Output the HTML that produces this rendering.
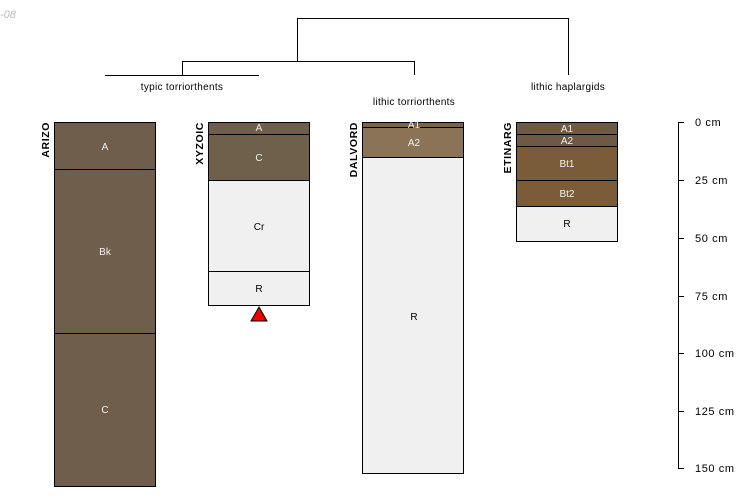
<!DOCTYPE html>
<html><head><style>body{margin:0;background:#fff}svg{display:block}text{font-family:"Liberation Sans",sans-serif}</style></head><body>
<svg width="750" height="500" viewBox="0 0 750 500" xmlns="http://www.w3.org/2000/svg">
<text x="0" y="18" font-size="11" font-style="italic" fill="#bbb">-08</text>
<g stroke="#000" stroke-width="1" fill="none">
<path d="M297.5 61V18.5H568.5V75"/>
<path d="M182.5 75V61.5H414.5V75"/>
<path d="M105 75.5H259"/>
</g>
<g font-size="10" fill="#000" text-anchor="middle" letter-spacing="0.3">
<text x="182" y="90">typic torriorthents</text>
<text x="414" y="105">lithic torriorthents</text>
<text x="568" y="90">lithic haplargids</text>
</g>
<g stroke="#000" stroke-width="1">
<rect x="54.5" y="122.5" width="101" height="47" fill="#6e5e4b"/>
<rect x="54.5" y="169.5" width="101" height="164" fill="#6e5e4b"/>
<rect x="54.5" y="333.5" width="101" height="153" fill="#6e5e4b"/>
<rect x="208.5" y="122.5" width="101" height="12" fill="#6e5e4b"/>
<rect x="208.5" y="134.5" width="101" height="46" fill="#6e604b"/>
<rect x="208.5" y="180.5" width="101" height="91" fill="#f0f0f0"/>
<rect x="208.5" y="271.5" width="101" height="34" fill="#f0f0f0"/>
<rect x="362.5" y="122.5" width="101" height="5" fill="#7a6450"/>
<rect x="362.5" y="127.5" width="101" height="30" fill="#8b7358"/>
<rect x="362.5" y="157.5" width="101" height="316" fill="#f0f0f0"/>
<rect x="516.5" y="122.5" width="101" height="12" fill="#6e5a44"/>
<rect x="516.5" y="134.5" width="101" height="12" fill="#6e5a44"/>
<rect x="516.5" y="146.5" width="101" height="34" fill="#7a5c38"/>
<rect x="516.5" y="180.5" width="101" height="26" fill="#7a5c38"/>
<rect x="516.5" y="206.5" width="101" height="35" fill="#f0f0f0"/>
</g>
<polygon points="259,307 251,321 267,321" fill="#e00" stroke="#000"/>
<g font-size="10" text-anchor="middle" fill="#f0f0f0">
<text x="105" y="150">A</text><text x="105" y="255">Bk</text><text x="105" y="413">C</text>
<text x="259" y="131">A</text><text x="259" y="161">C</text>
<text x="414" y="128">A1</text><text x="414" y="146">A2</text>
<text x="567" y="132">A1</text><text x="567" y="144">A2</text><text x="567" y="167">Bt1</text><text x="567" y="197">Bt2</text>
</g>
<g font-size="10" text-anchor="middle" fill="#000">
<text x="259" y="230">Cr</text><text x="259" y="292">R</text>
<text x="414" y="320">R</text><text x="567" y="227">R</text>
</g>
<g font-size="10.5" font-weight="bold" fill="#000" letter-spacing="0.6">
<text transform="translate(49,122) rotate(-90)" text-anchor="end">ARIZO</text>
<text transform="translate(203,122) rotate(-90)" text-anchor="end">XYZOIC</text>
<text transform="translate(357,122) rotate(-90)" text-anchor="end">DALVORD</text>
<text transform="translate(511,122) rotate(-90)" text-anchor="end">ETINARG</text>
</g>
<g stroke="#000"><path d="M678.5 122V469"/>
<path d="M678 122.5h6M678 180.5h6M678 238.5h6M678 296.5h6M678 353.5h6M678 411.5h6M678 468.5h6"/></g>
<g font-size="11" fill="#000" letter-spacing="0.6">
<text x="695" y="126">0 cm</text><text x="695" y="184">25 cm</text><text x="695" y="242">50 cm</text>
<text x="695" y="300">75 cm</text><text x="695" y="357">100 cm</text><text x="695" y="415">125 cm</text><text x="695" y="472">150 cm</text>
</g>
</svg>
</body></html>
